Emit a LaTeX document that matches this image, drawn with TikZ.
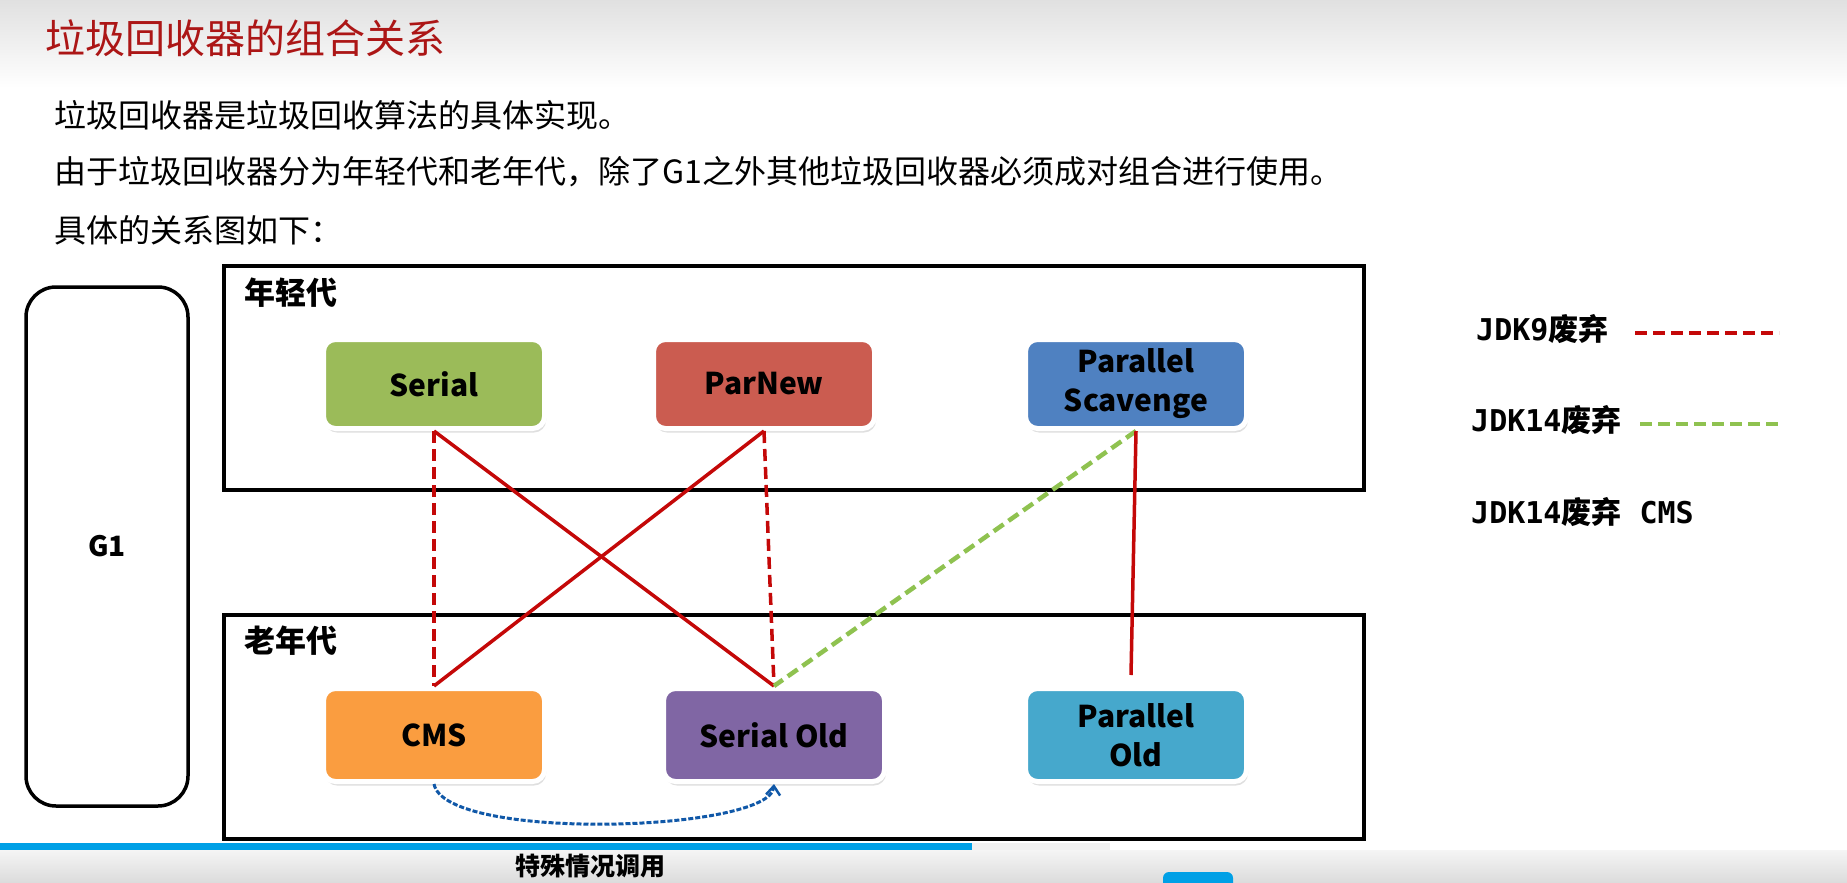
\documentclass[tikz,border=0pt]{standalone}
\usepackage{fontspec}
\setmainfont{Noto Sans CJK SC}
\newfontfamily\monob{DejaVu Sans Mono}
\usetikzlibrary{shadows,arrows.meta}
\definecolor{titlered}{RGB}{172,22,22}
\definecolor{sgreen}{RGB}{155,187,89}
\definecolor{pnred}{RGB}{203,92,80}
\definecolor{psblue}{RGB}{79,129,193}
\definecolor{corange}{RGB}{250,157,64}
\definecolor{spurple}{RGB}{128,102,164}
\definecolor{pteal}{RGB}{70,168,204}
\definecolor{linered}{RGB}{196,8,8}
\definecolor{lgreen}{RGB}{143,194,80}
\definecolor{cblue}{RGB}{16,88,168}
\definecolor{barblue}{RGB}{0,160,230}
\tikzset{
  gcbox/.style={rounded corners=12pt, draw=white, line width=5pt,
    minimum width=221pt, minimum height=89pt, inner sep=0pt, align=center,
    font=\fontsize{30}{39}\selectfont\bfseries,
    drop shadow={shadow xshift=1.5pt, shadow yshift=-4pt, opacity=0.25}},
  genbox/.style={draw, line width=4pt, minimum width=1140pt, minimum height=224pt, inner sep=0pt},
  genlabel/.style={anchor=west, inner sep=0pt, font=\fontsize{31}{36}\selectfont\bfseries},
  bodytext/.style={anchor=west, inner sep=0pt, font=\fontsize{32}{38}\selectfont},
  legendtext/.style={anchor=west, inner sep=0pt, font=\fontsize{30}{36}\selectfont\bfseries},
  redsolid/.style={draw=linered, line width=3.5pt},
  reddash/.style={draw=linered, line width=3.5pt, dash pattern=on 12pt off 6pt},
  greendash/.style={draw=lgreen, line width=4.5pt, dash pattern=on 12pt off 6pt},
  bluedash/.style={draw=cblue, line width=3pt, dash pattern=on 5pt off 2pt}
}
\begin{document}
\begin{tikzpicture}[x=1pt,y=-1pt]
\useasboundingbox (0,0) rectangle (1847,883);
\fill[white] (0,0) rectangle (1847,883);
\shade[top color=black!12, bottom color=white] (0,0) rectangle (1847,88);

% title and body text
\node[anchor=west, inner sep=0pt, text=titlered, font=\fontsize{40}{48}\selectfont] (title) at (45,38) {垃圾回收器的组合关系};
\node[bodytext] (t1) at (54,115) {垃圾回收器是垃圾回收算法的具体实现。};
\node[bodytext] (t2) at (54,172) {由于垃圾回收器分为年轻代和老年代，除了G1之外其他垃圾回收器必须成对组合进行使用。};
\node[bodytext] (t3) at (54,230) {具体的关系图如下：};

% G1
\node[draw, line width=3.5pt, rounded corners=30pt, minimum width=162pt, minimum height=519pt,
  font=\fontsize{28}{34}\selectfont\bfseries] (g1) at (107,546.5) {G1};

% generation boxes
\node[genbox] (young) at (794,378) {};
\node[genlabel] (younglbl) at (244,293) {年轻代};
\node[genbox] (old) at (794,726.5) {};
\node[genlabel] (oldlbl) at (244,641) {老年代};

% collectors
\node[gcbox, fill=sgreen] (serial) at (434,384) {Serial};
\node[gcbox, fill=pnred] (parnew) at (764,384) {ParNew};
\node[gcbox, fill=psblue] (ps) at (1136,384) {Parallel\\Scavenge};
\node[gcbox, fill=corange, minimum height=93pt] (cms) at (434,735) {CMS};
\node[gcbox, fill=spurple, minimum height=93pt] (sold) at (774,735) {Serial Old};
\node[gcbox, fill=pteal, minimum height=93pt] (pold) at (1136,735) {Parallel\\Old};

% connectors
\coordinate (psend) at (1131,675);
\draw[reddash] (serial.south) -- (cms.north);
\draw[redsolid] (serial.south) -- (sold.north);
\draw[redsolid] (parnew.south) -- (cms.north);
\draw[reddash] (parnew.south) -- (sold.north);
\draw[greendash] (ps.south) -- (sold.north);
\draw[redsolid] (ps.south) -- (psend);
\draw[bluedash, -{Straight Barb[length=9pt, width=14pt, line width=2.5pt]}]
  (cms.south) .. controls (445,842) and (770,832) .. (sold.south);

% legend
\node[legendtext] (leg1) at (1476,329) {{\monob\bfseries JDK9}废弃};
\coordinate (leg1a) at (1635,333);
\coordinate (leg1b) at (1779,333);
\draw[reddash, line width=4.5pt] (leg1a) -- (leg1b);
\node[legendtext] (leg2) at (1471,420) {{\monob\bfseries JDK14}废弃};
\coordinate (leg2a) at (1640,424);
\coordinate (leg2b) at (1781,424);
\draw[greendash] (leg2a) -- (leg2b);
\node[legendtext] (leg3) at (1471,512) {{\monob\bfseries JDK14}废弃{\monob\bfseries\ CMS}};

% bottom video bar
\shade[top color=black!4, bottom color=black!14] (0,850) rectangle (1847,883);
\fill[barblue] (0,843) rectangle (972,850);
\fill[black!6] (972,843) rectangle (1110,850);
\fill[barblue, rounded corners=6pt] (1163,872) rectangle (1233,895);
\node[anchor=west, inner sep=0pt, font=\fontsize{25}{30}\selectfont\bfseries] (sub) at (515,866) {特殊情况调用};
\end{tikzpicture}
\end{document}
